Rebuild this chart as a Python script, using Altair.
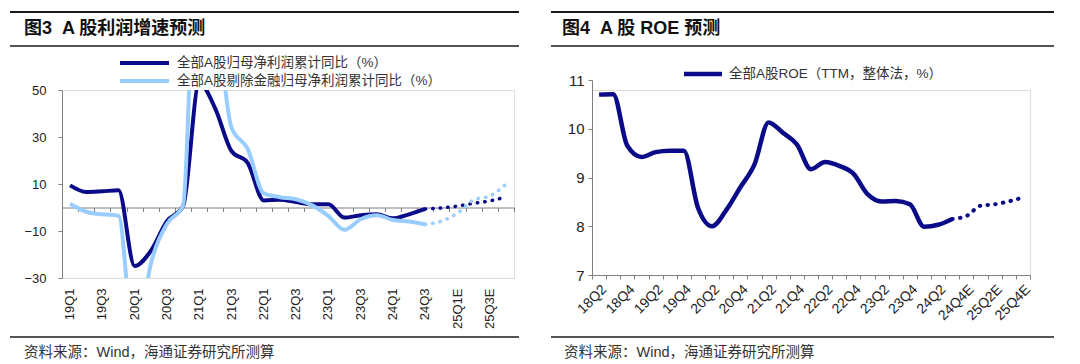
import altair as alt
import pandas as pd

# ---------------- data ----------------
quarters_a = ["19Q1", "19Q2", "19Q3", "19Q4", "20Q1", "20Q2", "20Q3", "20Q4",
              "21Q1", "21Q2", "21Q3", "21Q4", "22Q1", "22Q2", "22Q3", "22Q4",
              "23Q1", "23Q2", "23Q3", "23Q4", "24Q1", "24Q2", "24Q3",
              "24Q4E", "25Q1E", "25Q2E", "25Q3E", "25Q4E"]
profit_all = [9.4, 6.6, 6.9, 7.3, -24.9, -18.5, -5.8, 0.5,
              53.0, 42.0, 24.0, 19.0, 3.0, 3.3, 2.3, 1.4,
              1.4, -4.3, -3.3, -2.9, -4.6, -2.9, -0.6]
profit_all_fc = [-0.2, 0.6, 1.8, 2.8, 4.5]
profit_exfin = [1.6, -1.8, -2.9, -3.5, -60.0, -24.0, -7.0, 0.8,
                150.0, 90.0, 34.0, 25.0, 6.0, 4.4, 3.5, 0.9,
                -3.6, -9.5, -5.0, -3.3, -5.3, -6.0, -7.2]
profit_exfin_fc = [-5.8, -2.4, 3.2, 4.9, 9.9]

quarters_b = ["18Q2", "18Q3", "18Q4", "19Q1", "19Q2", "19Q3", "19Q4",
              "20Q1", "20Q2", "20Q3", "20Q4", "21Q1", "21Q2", "21Q3", "21Q4",
              "22Q1", "22Q2", "22Q3", "22Q4", "23Q1", "23Q2", "23Q3", "23Q4",
              "24Q1", "24Q2", "24Q3", "24Q4E", "25Q1E", "25Q2E", "25Q3E", "25Q4E"]
roe = [10.70, 10.71, 9.65, 9.42, 9.52, 9.55, 9.55, 8.38, 8.00, 8.33, 8.80,
       9.27, 10.13, 9.92, 9.68, 9.17, 9.32, 9.24, 9.08, 8.66, 8.51, 8.52,
       8.45, 7.99, 8.03, 8.15]
roe_fc = [8.21, 8.42, 8.45, 8.51, 8.59]

name_all = "全部A股归母净利润累计同比（%）"
name_ex = "全部A股剔除金融归母净利润累计同比（%）"
name_roe = "全部A股ROE（TTM，整体法，%）"
title_a = "图3\u00a0\u00a0A 股利润增速预测"
title_b = "图4\u00a0\u00a0A 股 ROE 预测"
source = "资料来源：Wind，海通证券研究所测算"
yticks_a = [-30, -10, 10, 30, 50]
yticks_b = [7, 8, 9, 10, 11]

# ---------------- style ----------------
FONT = "Liberation Sans, Noto Sans CJK SC"
DARK = "#0b0b8a"
LIGHT = "#99ccff"
AXIS = "#808080"
TXT = "#222222"
W1, H1 = 452, 188          # left plot area
W2, H2 = 438, 185          # right view (data range extends 10px above)

dummy = pd.DataFrame({"k": [0]})


def hrule(x1, x2, y, w=2, color="#1a1a1a"):
    return alt.Chart(dummy).mark_rule(color=color, strokeWidth=w).encode(
        x=alt.value(x1), x2=alt.value(x2), y=alt.value(y))


def note(x, y, txt, size, weight="normal", color=TXT):
    return alt.Chart(dummy).mark_text(
        align="left", baseline="middle", fontSize=size, fontWeight=weight,
        font=FONT, color=color).encode(
        x=alt.value(x), y=alt.value(y), text=alt.value(txt))


# ---------------- left panel ----------------
n_a = len(profit_all)
df_solid = pd.concat([
    pd.DataFrame({"q": quarters_a[:n_a], "v": profit_all, "s": name_all}),
    pd.DataFrame({"q": quarters_a[:n_a], "v": profit_exfin, "s": name_ex}),
])
df_all_fc = pd.DataFrame({"q": quarters_a[n_a - 1:], "v": [profit_all[-1]] + profit_all_fc})
df_ex_fc = pd.DataFrame({"q": quarters_a[n_a - 1:], "v": [profit_exfin[-1]] + profit_exfin_fc})

xs_a = alt.Scale(type="band", domain=quarters_a, paddingInner=0, paddingOuter=0)
ys_a = alt.Scale(domain=[-30, 50], nice=False, zero=False)
yaxis_a = alt.Axis(values=yticks_a, grid=False, tickSize=4, tickColor=AXIS,
                   domainColor=AXIS, labelFont=FONT, labelFontSize=13,
                   labelColor=TXT, labelPadding=12, title=None)
label_axis = alt.Axis(orient="bottom", values=quarters_a[::2], labelAngle=-90,
                      labelFont=FONT, labelFontSize=13, labelColor=TXT,
                      labelPadding=10, ticks=False, domain=False, grid=False,
                      title=None)
tick_axis = alt.Axis(orient="bottom", offset=-H1 * 30 / 80, labels=False,
                     ticks=True, tickSize=4, tickBand="extent", tickColor=AXIS,
                     domainColor=AXIS, grid=False, title=None)

solid_a = alt.Chart(df_solid).mark_line(
    interpolate="monotone", strokeWidth=4, clip=True).encode(
    x=alt.X("q:N", scale=xs_a, bandPosition=0.5, axis=label_axis),
    y=alt.Y("v:Q", scale=ys_a, axis=yaxis_a),
    color=alt.Color("s:N", scale=alt.Scale(domain=[name_all, name_ex], range=[DARK, LIGHT]),
                    legend=None),
)
dot_all = alt.Chart(df_all_fc).mark_line(
    interpolate="monotone", strokeWidth=3.5, strokeDash=[0.5, 7],
    strokeCap="round", color=DARK, clip=True).encode(
    x=alt.X("q:N", scale=xs_a, bandPosition=0.5, axis=tick_axis),
    y=alt.Y("v:Q", scale=ys_a, axis=yaxis_a),
)
dot_ex = alt.Chart(df_ex_fc).mark_line(
    interpolate="monotone", strokeWidth=3.5, strokeDash=[0.5, 7],
    strokeCap="round", color=LIGHT, clip=True).encode(
    x=alt.X("q:N", scale=xs_a, bandPosition=0.5, axis=None),
    y=alt.Y("v:Q", scale=ys_a, axis=yaxis_a),
)

legend_left = [
    hrule(58, 107, -27, 4, DARK), note(115, -27, name_all, 13.5, color="#333333"),
    hrule(58, 107, -9, 4, LIGHT), note(115, -9, name_ex, 13.5, color="#333333"),
]

left = alt.layer(
    solid_a, dot_all, dot_ex, *legend_left,
    hrule(-52, 457, -78, 2), hrule(-52, 457, -44, 1.5), hrule(-52, 457, 247, 1.5),
    note(-38, -61, title_a, 18, "bold", "#111111"),
    note(-38, 263, source, 14.5, "normal", "#333333"),
).resolve_axis(x="independent").properties(width=W1, height=H1)

# ---------------- right panel ----------------
n_b = len(roe)
df_roe = pd.DataFrame({"q": quarters_b[:n_b], "v": roe})
df_roe_fc = pd.DataFrame({"q": quarters_b[n_b - 1:], "v": [roe[-1]] + roe_fc})

xs_b = alt.Scale(type="band", domain=quarters_b, paddingInner=0, paddingOuter=0)
ys_b = alt.Scale(domain=[7, 11], nice=False, zero=False, range=[H2, -10])
show_b = quarters_b[::2]
expr_b = "indexof([" + ",".join("'%s'" % q for q in show_b) + "], datum.value) >= 0 ? datum.label : ''"
xaxis_b = alt.Axis(labelExpr=expr_b, labelAngle=-45, labelFont=FONT,
                   labelFontSize=14, labelColor=TXT, labelPadding=3,
                   tickSize=4, tickBand="extent", tickColor=AXIS,
                   domainColor=AXIS, grid=False, title=None, labelOverlap=False)
yaxis_b = alt.Axis(values=yticks_b, grid=False, tickSize=4, tickColor=AXIS,
                   domainColor=AXIS, labelFont=FONT, labelFontSize=15,
                   labelColor=TXT, labelPadding=4, title=None)

solid_b = alt.Chart(df_roe).mark_line(
    interpolate="monotone", strokeWidth=4.5, color=DARK).encode(
    x=alt.X("q:N", scale=xs_b, bandPosition=0.5, axis=xaxis_b),
    y=alt.Y("v:Q", scale=ys_b, axis=yaxis_b),
)
dot_b = alt.Chart(df_roe_fc).mark_line(
    interpolate="monotone", strokeWidth=4, strokeDash=[0.5, 7.3],
    strokeCap="round", color=DARK).encode(
    x=alt.X("q:N", scale=xs_b, bandPosition=0.5, axis=xaxis_b),
    y=alt.Y("v:Q", scale=ys_b, axis=yaxis_b),
)

legend_right = [
    hrule(92, 130, -16, 4.5, DARK), note(137, -16, name_roe, 13.5, color="#333333"),
]

right = alt.layer(
    solid_b, dot_b, *legend_right,
    hrule(-41, 462, -78, 2), hrule(-41, 462, -44, 1.5), hrule(-41, 462, 247, 1.5),
    note(-30, -61, title_b, 18, "bold", "#111111"),
    note(-28, 263, source, 14.5, "normal", "#333333"),
).properties(width=W2, height=H2)

chart = alt.hconcat(left, right, spacing=28).properties(
    padding={"left": 0, "top": 2, "right": 0, "bottom": 0}
).configure_view(stroke=None).configure(font=FONT)

chart.save("out.html", embed_options={"renderer": "svg", "actions": False})
